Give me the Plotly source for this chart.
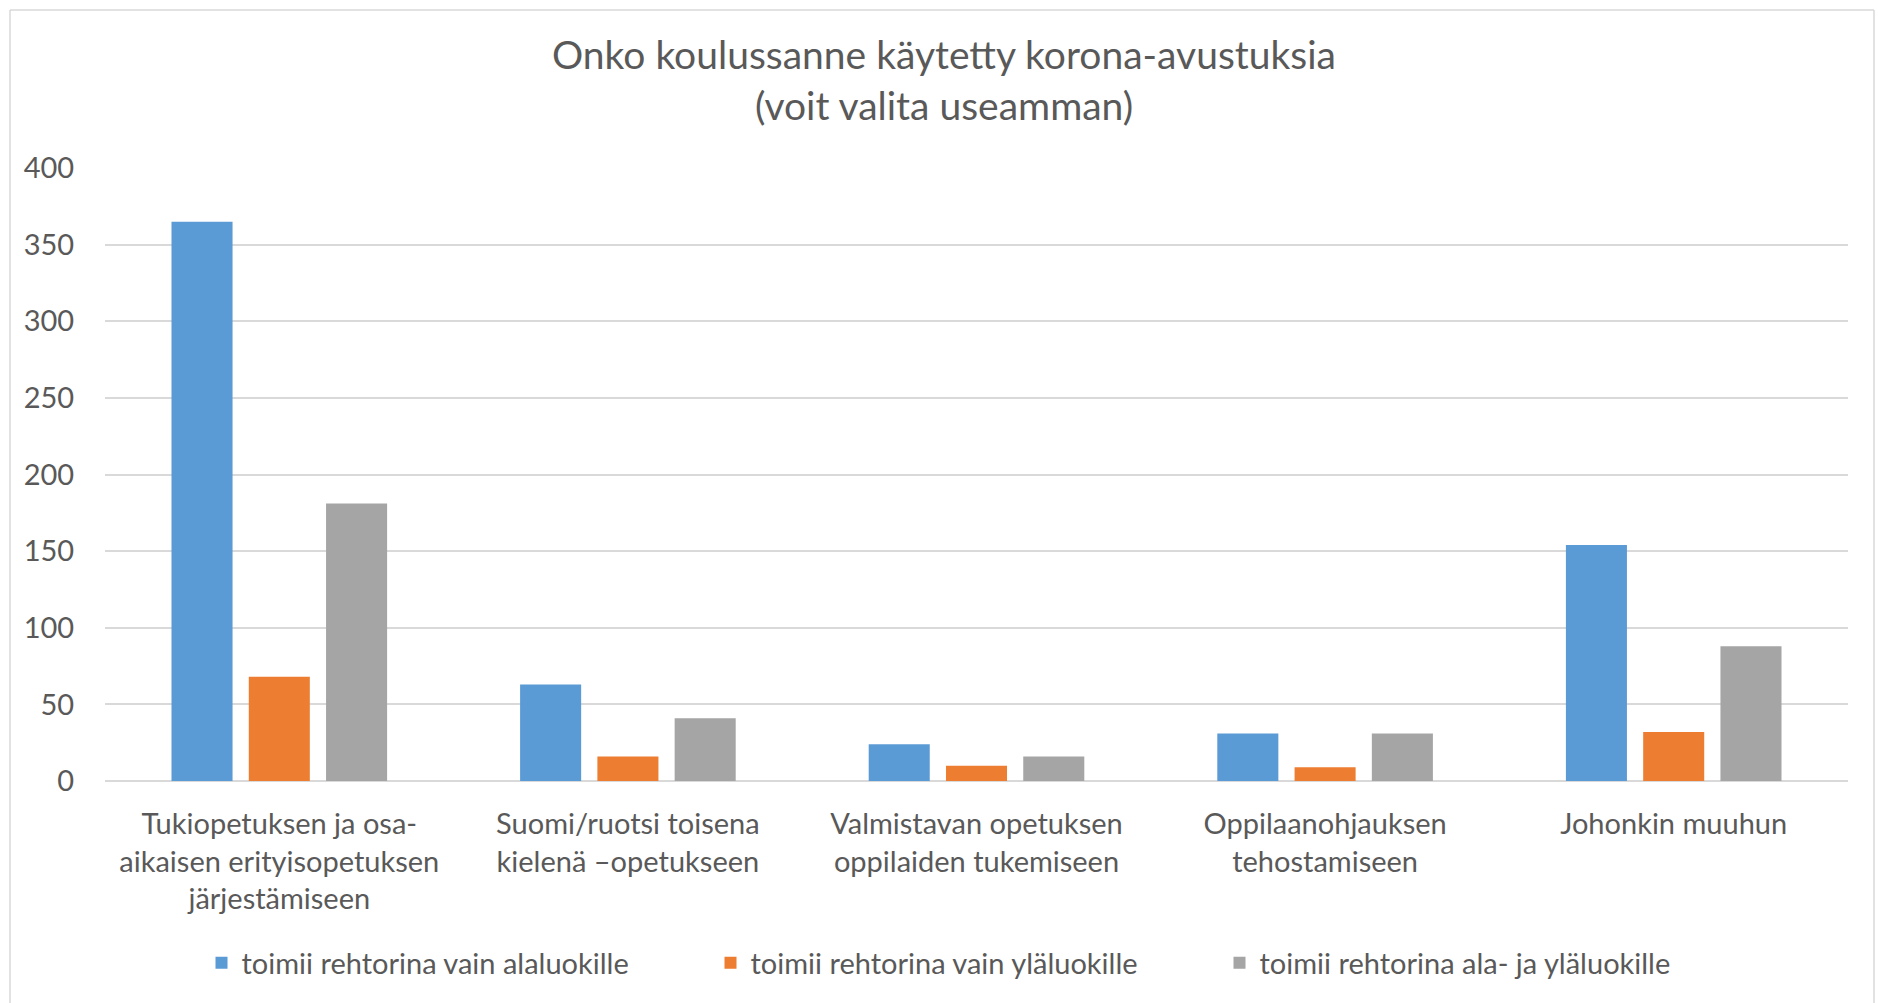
import plotly.graph_objects as go

categories = [
    "Tukiopetuksen ja osa-<br>aikaisen erityisopetuksen<br>järjestämiseen",
    "Suomi/ruotsi toisena<br>kielenä –opetukseen",
    "Valmistavan opetuksen<br>oppilaiden tukemiseen",
    "Oppilaanohjauksen<br>tehostamiseen",
    "Johonkin muuhun",
]
series_names = [
    "toimii rehtorina vain alaluokille",
    "toimii rehtorina vain yläluokille",
    "toimii rehtorina ala- ja yläluokille",
]
alaluokat = [365, 63, 24, 31, 154]
ylaluokat = [68, 16, 10, 9, 32]
molemmat = [181, 41, 16, 31, 88]
colors = ["#5B9BD5", "#ED7D31", "#A5A5A5"]
y_ticks = [0, 50, 100, 150, 200, 250, 300, 350, 400]

W, H = 1878, 1003
L, R, T, B = 105, 30, 168, 222
FONT = "Lato"
TXT = "#595959"
FS = 29

fig = go.Figure()
for name, vals, col in zip(series_names, [alaluokat, ylaluokat, molemmat], colors):
    fig.add_trace(go.Bar(x=categories, y=vals, name=name, marker_color=col,
                         marker_line_width=0))

pw = W - L - R
ph = H - T - B
def px_x(v):
    return (v - L) / pw
def px_y(v):
    return (H - B - v) / ph

shapes = [
    dict(type="line", xref="paper", yref="paper", x0=px_x(10), x1=px_x(10), y0=px_y(10), y1=px_y(1010),
         line=dict(color="#D9D9D9", width=1.5)),
    dict(type="line", xref="paper", yref="paper", x0=px_x(10), x1=px_x(1874), y0=px_y(10), y1=px_y(10),
         line=dict(color="#D9D9D9", width=1.5)),
    dict(type="line", xref="paper", yref="paper", x0=px_x(1874), x1=px_x(1874), y0=px_y(10), y1=px_y(1010),
         line=dict(color="#D9D9D9", width=1.5)),
]

fig.update_layout(
    width=W, height=H,
    margin=dict(l=L, r=R, t=T, b=B),
    paper_bgcolor="white", plot_bgcolor="white",
    font=dict(family=FONT, size=FS, color=TXT),
    title=dict(text="Onko koulussanne käytetty korona-avustuksia<br>(voit valita useamman)",
               xref="paper", x=px_x(944), xanchor="center",
               yref="container", y=1 - 69 / H, yanchor="middle",
               font=dict(family=FONT, size=39, color=TXT)),
    barmode="group", bargap=0.335, bargroupgap=0.21,
    showlegend=True,
    legend=dict(orientation="h", x=px_x(965), xanchor="center", y=px_y(963), yanchor="middle",
                font=dict(family=FONT, size=FS, color=TXT), entrywidth=464,
                traceorder="normal"),
    shapes=shapes,
)
fig.update_yaxes(range=[0, 400], tickvals=y_ticks, showgrid=True, gridcolor="#D9D9D9", gridwidth=1.5,
                 zeroline=True, zerolinecolor="#D9D9D9", zerolinewidth=1.5,
                 ticks="outside", ticklen=24, tickcolor="rgba(0,0,0,0)", showline=False,
                 fixedrange=True)
fig.update_xaxes(ticks="outside", ticklen=17, tickcolor="rgba(0,0,0,0)", showline=False,
                 tickangle=0, fixedrange=True)

fig.write_html("out.html", config={"displayModeBar": False},
               post_script="document.body.style.margin='0';document.body.style.overflow='hidden';")
